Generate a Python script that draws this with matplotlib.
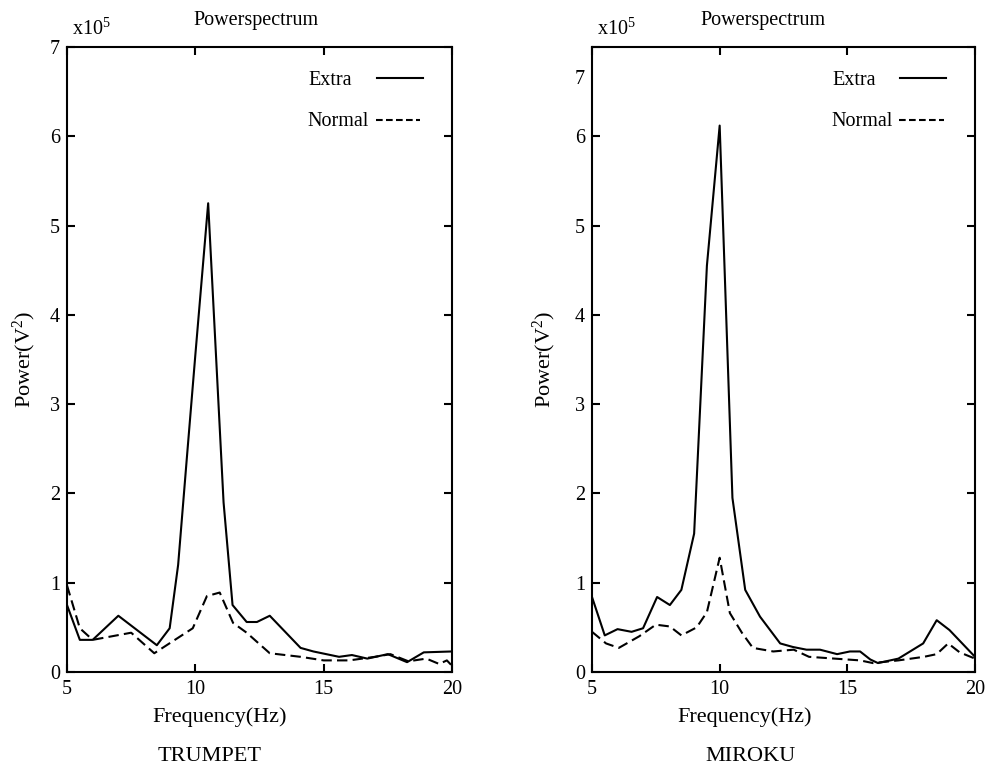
import matplotlib
matplotlib.use("Agg")
import matplotlib.pyplot as plt
from matplotlib.transforms import ScaledTranslation

plt.rcParams['font.family'] = ['Liberation Serif', 'DejaVu Serif']
plt.rcParams['mathtext.fontset'] = 'custom'
plt.rcParams['mathtext.rm'] = 'Liberation Serif'
plt.rcParams['mathtext.it'] = 'Liberation Serif:italic'

# ---------------- data (power in units of 1e5 V^2) ----------------
trumpet_extra_f = [5.0, 5.5, 6.0, 7.0, 8.5, 9.0, 9.33, 9.67, 10.0, 10.5, 11.1, 11.45,
                   12.0, 12.4, 12.9, 14.1, 14.6, 15.6, 16.1, 16.7, 17.5, 18.25, 18.9, 20.0]
trumpet_extra_p = [0.75, 0.36, 0.36, 0.63, 0.30, 0.49, 1.2, 2.4, 3.55, 5.25, 1.9, 0.75,
                   0.56, 0.56, 0.63, 0.27, 0.23, 0.17, 0.19, 0.15, 0.20, 0.11, 0.22, 0.23]
trumpet_normal_f = [5.0, 5.5, 6.0, 7.5, 8.4, 9.9, 10.45, 10.95, 11.47, 12.0, 12.9, 14.1,
                    15.0, 16.0, 17.0, 17.6, 18.3, 19.0, 19.5, 19.8, 20.0]
trumpet_normal_p = [0.97, 0.49, 0.36, 0.44, 0.21, 0.49, 0.85, 0.89, 0.55, 0.44, 0.21, 0.17,
                    0.13, 0.13, 0.17, 0.20, 0.12, 0.15, 0.09, 0.13, 0.07]

miroku_extra_f = [5.0, 5.5, 6.0, 6.55, 7.0, 7.55, 8.05, 8.5, 9.0, 9.5, 10.0, 10.5, 11.0,
                  11.58, 12.37, 12.87, 13.4, 13.93, 14.6, 15.1, 15.5, 15.9, 16.2, 17.0,
                  17.97, 18.5, 19.0, 20.0]
miroku_extra_p = [0.84, 0.41, 0.48, 0.45, 0.49, 0.84, 0.75, 0.92, 1.55, 4.55, 6.12, 1.95, 0.92,
                  0.62, 0.32, 0.28, 0.25, 0.25, 0.20, 0.23, 0.23, 0.14, 0.10, 0.15,
                  0.32, 0.58, 0.47, 0.17]
miroku_normal_f = [5.0, 5.55, 6.05, 6.85, 7.5, 8.05, 8.5, 9.1, 9.5, 10.0, 10.4, 10.87, 11.3,
                   12.1, 12.9, 13.5, 14.5, 15.5, 16.0, 17.0, 18.0, 18.5, 18.95, 19.4, 20.0]
miroku_normal_p = [0.45, 0.32, 0.27, 0.40, 0.53, 0.51, 0.41, 0.50, 0.67, 1.28, 0.66, 0.44, 0.27,
                   0.23, 0.25, 0.17, 0.15, 0.13, 0.10, 0.13, 0.17, 0.20, 0.32, 0.22, 0.15]

x_ticks = [5, 10, 15, 20]
y_ticks = [0, 1, 2, 3, 4, 5, 6, 7]
panel_names = ["TRUMPET", "MIROKU"]
series_names = ["Extra", "Normal"]

FS = 14.5
FS_LAB = 16
fig = plt.figure(figsize=(9.88, 7.66), dpi=100)
W, H = 988, 766


def fx(px):
    return px / W


def fy(py):
    return 1 - py / H


panels = [
    dict(rect=(fx(67), fy(672), fx(452) - fx(67), fy(47) - fy(672)),
         ef=trumpet_extra_f, ep=trumpet_extra_p, nf=trumpet_normal_f, np_=trumpet_normal_p,
         name=panel_names[0], title_x=0.49, xlab_x=0.397, name_x=0.37, ylab_x=-0.075),
    dict(rect=(fx(592), fy(672), fx(975) - fx(592), fy(47) - fy(672)),
         ef=miroku_extra_f, ep=miroku_extra_p, nf=miroku_normal_f, np_=miroku_normal_p,
         name=panel_names[1], title_x=0.446, xlab_x=0.399, name_x=0.415, ylab_x=-0.09),
]

for i, p in enumerate(panels):
    ax = fig.add_axes(p['rect'])
    ax.plot(p['ef'], p['ep'], color='black', lw=1.5)
    ax.plot(p['nf'], p['np_'], color='black', lw=1.5, dashes=(5, 2.5))
    ax.set_xlim(5, 20)
    ax.set_ylim(0, 7)
    ax.set_xticks(x_ticks)
    ax.set_yticks(y_ticks)
    ax.tick_params(direction='in', length=6, width=1.5, top=True, right=True,
                   labelsize=FS)
    ax.tick_params(axis='x', pad=6)
    ax.tick_params(axis='y', pad=5)
    for s in ax.spines.values():
        s.set_linewidth(1.5)
    ax.set_title("Powerspectrum", fontsize=FS, x=p['title_x'], pad=16)
    ax.set_xlabel("Frequency(Hz)", fontsize=FS_LAB)
    ax.xaxis.set_label_coords(p['xlab_x'], -0.056)
    ax.set_ylabel(r"Power(V$^2$)", fontsize=FS_LAB)
    ax.yaxis.set_label_coords(p['ylab_x'], 0.5)
    ax.text(0.012, 1.012, r"x10$^5$", transform=ax.transAxes, fontsize=FS,
            ha='left', va='bottom')
    ax.text(p['name_x'], -0.135, p['name'], transform=ax.transAxes, fontsize=FS_LAB,
            ha='center', va='center')
    # key (text followed by line sample)
    ax.text(0.628, 0.947, series_names[0], transform=ax.transAxes, fontsize=FS,
            ha='left', va='center')
    ax.plot([0.805, 0.925], [0.950, 0.950], transform=ax.transAxes, color='black', lw=1.5)
    ax.text(0.625, 0.880, series_names[1], transform=ax.transAxes, fontsize=FS,
            ha='left', va='center')
    ax.plot([0.802, 0.918], [0.883, 0.883], transform=ax.transAxes, color='black', lw=1.5,
            dashes=(3.2, 1.6))
    if i == 1:
        labels = ax.get_yticklabels()
        off = ScaledTranslation(0, -30 / 100, fig.dpi_scale_trans)
        labels[-1].set_transform(labels[-1].get_transform() + off)

fig.savefig("out.png", dpi=100)
